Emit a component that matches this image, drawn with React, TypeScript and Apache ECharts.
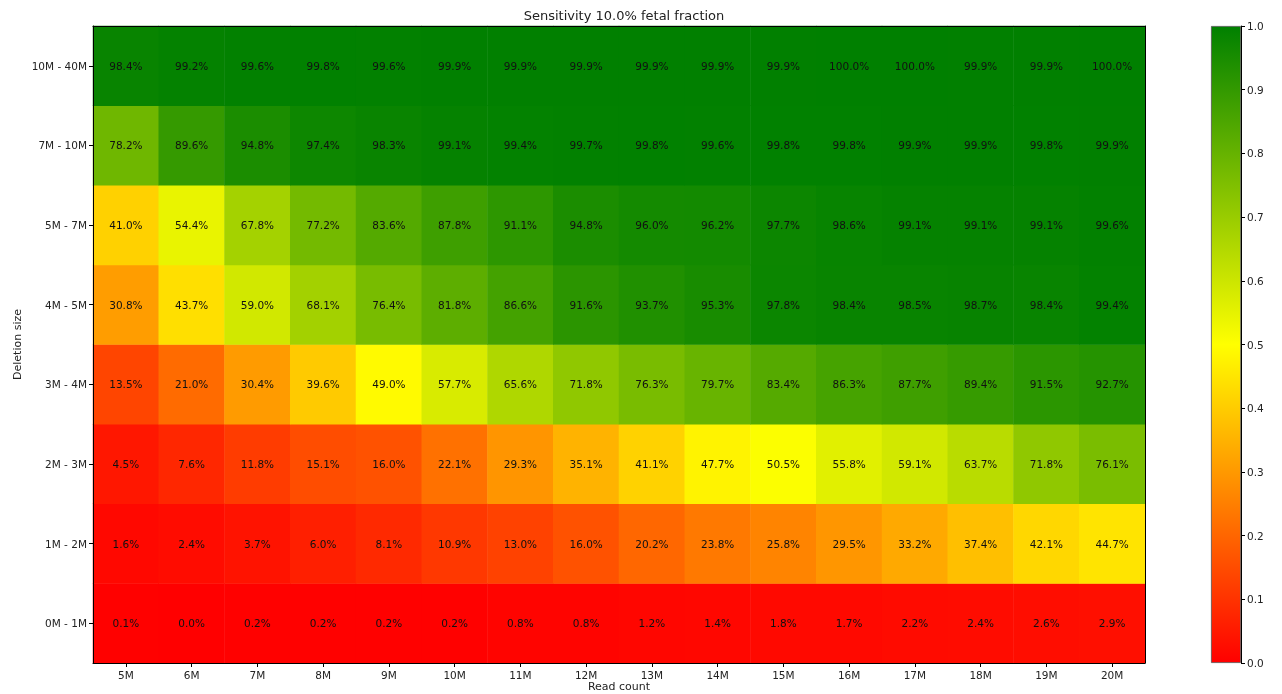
import React, { useEffect, useRef } from "react";
import * as echarts from "echarts";

const readCounts = ["5M", "6M", "7M", "8M", "9M", "10M", "11M", "12M", "13M", "14M", "15M", "16M", "17M", "18M", "19M", "20M"];
const deletionSizes = ["0M - 1M", "1M - 2M", "2M - 3M", "3M - 4M", "4M - 5M", "5M - 7M", "7M - 10M", "10M - 40M"];

const row0to1 = [0.1, 0.0, 0.2, 0.2, 0.2, 0.2, 0.8, 0.8, 1.2, 1.4, 1.8, 1.7, 2.2, 2.4, 2.6, 2.9];
const row1to2 = [1.6, 2.4, 3.7, 6.0, 8.1, 10.9, 13.0, 16.0, 20.2, 23.8, 25.8, 29.5, 33.2, 37.4, 42.1, 44.7];
const row2to3 = [4.5, 7.6, 11.8, 15.1, 16.0, 22.1, 29.3, 35.1, 41.1, 47.7, 50.5, 55.8, 59.1, 63.7, 71.8, 76.1];
const row3to4 = [13.5, 21.0, 30.4, 39.6, 49.0, 57.7, 65.6, 71.8, 76.3, 79.7, 83.4, 86.3, 87.7, 89.4, 91.5, 92.7];
const row4to5 = [30.8, 43.7, 59.0, 68.1, 76.4, 81.8, 86.6, 91.6, 93.7, 95.3, 97.8, 98.4, 98.5, 98.7, 98.4, 99.4];
const row5to7 = [41.0, 54.4, 67.8, 77.2, 83.6, 87.8, 91.1, 94.8, 96.0, 96.2, 97.7, 98.6, 99.1, 99.1, 99.1, 99.6];
const row7to10 = [78.2, 89.6, 94.8, 97.4, 98.3, 99.1, 99.4, 99.7, 99.8, 99.6, 99.8, 99.8, 99.9, 99.9, 99.8, 99.9];
const row10to40 = [98.4, 99.2, 99.6, 99.8, 99.6, 99.9, 99.9, 99.9, 99.9, 99.9, 99.9, 100.0, 100.0, 99.9, 99.9, 100.0];

const rows = [row0to1, row1to2, row2to3, row3to4, row4to5, row5to7, row7to10, row10to40];
const colorbarTicks = [0, 0.1, 0.2, 0.3, 0.4, 0.5, 0.6, 0.7, 0.8, 0.9, 1.0];

const FONT = "DejaVu Sans";
const TXT = "#222";

export default function App() {
  const ref = useRef<HTMLDivElement>(null);
  useEffect(() => {
    if (!ref.current) return;
    const chart = echarts.init(ref.current, undefined, { renderer: "svg" });
    const data: number[][] = [];
    rows.forEach((r, yi) => r.forEach((v, xi) => data.push([xi, yi, v])));

    chart.setOption({
      animation: false,
      title: {
        text: "Sensitivity 10.0% fetal fraction",
        left: 619,
        textAlign: "center",
        top: 4,
        textStyle: { fontFamily: FONT, fontSize: 13, fontWeight: "normal", color: TXT },
      },
      grid: [
        { left: 93, top: 26, width: 1052, height: 637, outerBoundsMode: "none", containLabel: false },
        { left: 1211, top: 26, width: 30, height: 637, outerBoundsMode: "none", containLabel: false },
      ],
      xAxis: [
        {
          type: "category",
          gridIndex: 0,
          data: readCounts,
          name: "Read count",
          nameLocation: "middle",
          nameGap: 18,
          nameMoveOverlap: false,
          nameTextStyle: { fontFamily: FONT, fontSize: 11, color: TXT },
          axisLine: { show: true, lineStyle: { color: "#000", width: 1 } },
          axisTick: { show: true, alignWithLabel: true, length: 4, lineStyle: { color: "#000" } },
          axisLabel: { fontFamily: FONT, fontSize: 10.5, color: TXT, margin: 6 },
          splitLine: { show: false },
          z: 10,
        },
        {
          type: "category",
          gridIndex: 0,
          position: "top",
          data: readCounts,
          axisLine: { show: true, lineStyle: { color: "#000", width: 1 } },
          axisTick: { show: false },
          axisLabel: { show: false },
          z: 10,
        },
        {
          type: "category",
          gridIndex: 1,
          data: ["cb"],
          axisLine: { show: false },
          axisTick: { show: false },
          axisLabel: { show: false },
        },
      ],
      yAxis: [
        {
          type: "category",
          gridIndex: 0,
          data: deletionSizes,
          name: "Deletion size",
          nameLocation: "middle",
          nameGap: 70,
          nameMoveOverlap: false,
          nameTextStyle: { fontFamily: FONT, fontSize: 11, color: TXT },
          axisLine: { show: true, lineStyle: { color: "#000", width: 1 } },
          axisTick: { show: true, alignWithLabel: true, length: 4, lineStyle: { color: "#000" } },
          axisLabel: { fontFamily: FONT, fontSize: 10.5, color: TXT, margin: 6 },
          splitLine: { show: false },
          z: 10,
        },
        {
          type: "category",
          gridIndex: 0,
          position: "right",
          data: deletionSizes,
          axisLine: { show: true, lineStyle: { color: "#000", width: 1 } },
          axisTick: { show: false },
          axisLabel: { show: false },
          z: 10,
        },
        {
          type: "value",
          gridIndex: 1,
          position: "right",
          min: 0,
          max: 1,
          interval: 0.1,
          axisLine: { show: true, lineStyle: { color: "#000", width: 1 } },
          axisTick: { show: true, length: 4, lineStyle: { color: "#000" } },
          axisLabel: {
            fontFamily: FONT,
            fontSize: 10.5,
            color: TXT,
            margin: 6,
            formatter: (v: number) => v.toFixed(1),
          },
          splitLine: { show: false },
          z: 10,
        },
      ],
      visualMap: {
        show: false,
        type: "continuous",
        seriesIndex: 0,
        min: 0,
        max: 100,
        inRange: { color: ["#ff0000", "#ffff00", "#008000"] },
      },
      series: [
        {
          type: "heatmap",
          xAxisIndex: 0,
          yAxisIndex: 0,
          data,
          label: {
            show: true,
            fontFamily: FONT,
            fontSize: 10.5,
            color: "#111",
            formatter: (p: any) => p.value[2].toFixed(1) + "%",
          },
          itemStyle: { borderWidth: 0 },
          emphasis: { disabled: true },
        },
        {
          type: "bar",
          xAxisIndex: 2,
          yAxisIndex: 2,
          data: [colorbarTicks[colorbarTicks.length - 1]],
          barWidth: "100%",
          itemStyle: {
            color: new echarts.graphic.LinearGradient(0, 0, 0, 1, [
              { offset: 0, color: "#008000" },
              { offset: 0.5, color: "#ffff00" },
              { offset: 1, color: "#ff0000" },
            ]),
            borderColor: "#555",
            borderWidth: 0.8,
          },
          silent: true,
        },
      ],
    });
    return () => chart.dispose();
  }, []);
  return <div ref={ref} style={{ position: "fixed", left: 0, top: 0, width: 1282, height: 694 }} />;
}
